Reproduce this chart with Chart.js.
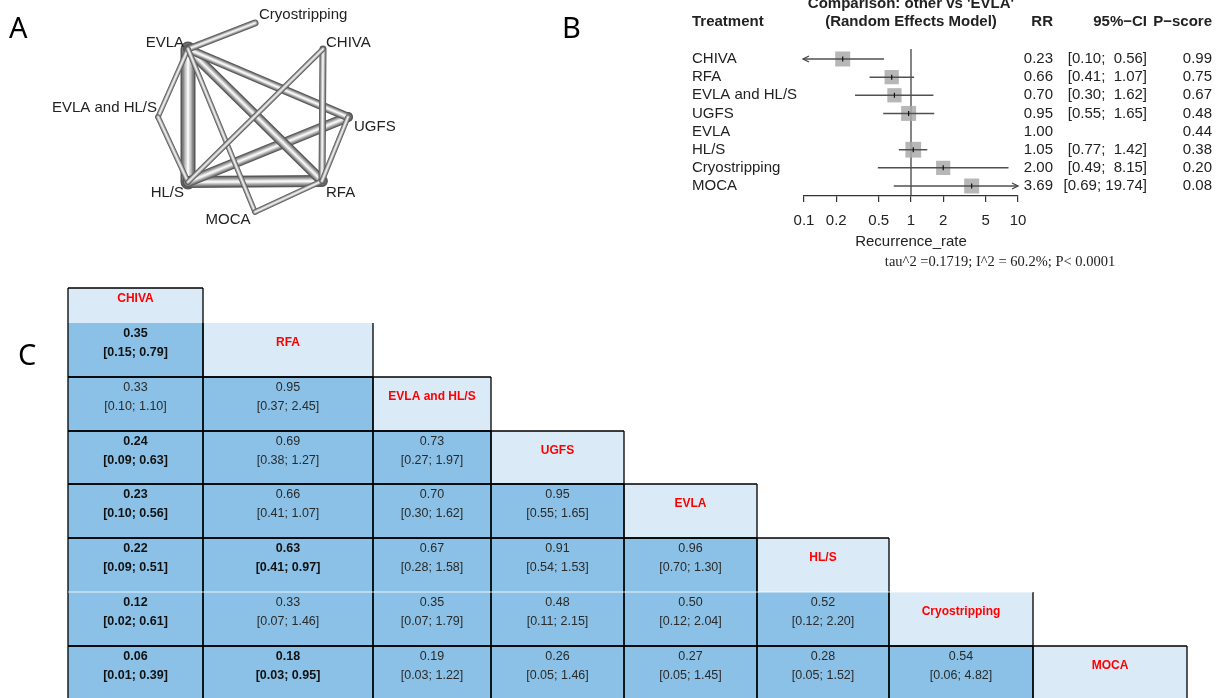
<!DOCTYPE html>
<html>
<head>
<title>Network meta-analysis: recurrence rate</title>
<script src="https://cdn.jsdelivr.net/npm/chart.js"></script>
<style>
  body { margin: 0; background: #fff; width: 1220px; height: 698px; overflow: hidden; position: relative; }
  canvas { position: absolute; }
</style>
</head>
<body>
<canvas id="netChart" width="560" height="280" style="left:0;top:0;width:560px;height:280px"></canvas>
<canvas id="forestChart" width="660" height="280" style="left:560px;top:0;width:660px;height:280px"></canvas>
<canvas id="leagueChart" width="1220" height="418" style="left:0;top:280px;width:1220px;height:418px"></canvas>
<script>
// ---- A: network graph data ----
const nodeNames = ['EVLA', 'Cryostripping', 'CHIVA', 'UGFS', 'RFA', 'MOCA', 'HL/S', 'EVLA and HL/S'];
const edgeFrom = ['EVLA', 'HL/S', 'HL/S', 'EVLA', 'EVLA', 'EVLA', 'CHIVA', 'EVLA', 'EVLA and HL/S', 'EVLA', 'RFA', 'CHIVA', 'UGFS'];
const edgeTo = ['HL/S', 'RFA', 'UGFS', 'RFA', 'UGFS', 'Cryostripping', 'RFA', 'EVLA and HL/S', 'HL/S', 'MOCA', 'MOCA', 'HL/S', 'RFA'];
const edgeStudies = [7, 5, 4, 4, 3, 2, 2, 1, 1, 1, 1, 1, 1];

// ---- B: forest plot data (other vs EVLA) ----
const forestLabels = ['CHIVA', 'RFA', 'EVLA and HL/S', 'UGFS', 'EVLA', 'HL/S', 'Cryostripping', 'MOCA'];
const forestRR = [0.23, 0.66, 0.70, 0.95, 1.00, 1.05, 2.00, 3.69];
const forestLo = [0.10, 0.41, 0.30, 0.55, null, 0.77, 0.49, 0.69];
const forestHi = [0.56, 1.07, 1.62, 1.65, null, 1.42, 8.15, 19.74];
const forestPScore = [0.99, 0.75, 0.67, 0.48, 0.44, 0.38, 0.20, 0.08];
const forestWeight = [1.0, 0.95, 0.95, 1.0, 0, 1.05, 0.95, 1.0];
const forestTicks = [0.1, 0.2, 0.5, 1, 2, 5, 10];

// ---- C: league table ----
const leagueNames = ['CHIVA', 'RFA', 'EVLA and HL/S', 'UGFS', 'EVLA', 'HL/S', 'Cryostripping', 'MOCA'];
const leagueEst = [
  [],
  [0.35],
  [0.33, 0.95],
  [0.24, 0.69, 0.73],
  [0.23, 0.66, 0.70, 0.95],
  [0.22, 0.63, 0.67, 0.91, 0.96],
  [0.12, 0.33, 0.35, 0.48, 0.50, 0.52],
  [0.06, 0.18, 0.19, 0.26, 0.27, 0.28, 0.54]
];
const leagueLo = [
  [],
  [0.15],
  [0.10, 0.37],
  [0.09, 0.38, 0.27],
  [0.10, 0.41, 0.30, 0.55],
  [0.09, 0.41, 0.28, 0.54, 0.70],
  [0.02, 0.07, 0.07, 0.11, 0.12, 0.12],
  [0.01, 0.03, 0.03, 0.05, 0.05, 0.05, 0.06]
];
const leagueHi = [
  [],
  [0.79],
  [1.10, 2.45],
  [0.63, 1.27, 1.97],
  [0.56, 1.07, 1.62, 1.65],
  [0.51, 0.97, 1.58, 1.53, 1.30],
  [0.61, 1.46, 1.79, 2.15, 2.04, 2.20],
  [0.39, 0.95, 1.22, 1.46, 1.45, 1.52, 4.82]
];

// layout (page pixels)
const nodeXY = {
  'EVLA': [188, 49], 'Cryostripping': [255, 23], 'CHIVA': [323, 49], 'UGFS': [348, 117],
  'RFA': [322, 181], 'MOCA': [255, 212], 'HL/S': [188, 182], 'EVLA and HL/S': [158, 117]
};
const nodeLabelXY = {
  'EVLA': [184, 43, 'right'], 'Cryostripping': [259, 15, 'left'], 'CHIVA': [326, 43, 'left'],
  'UGFS': [354, 127, 'left'], 'RFA': [326, 193, 'left'], 'MOCA': [228, 220, 'center'],
  'HL/S': [184, 193, 'right'], 'EVLA and HL/S': [157, 108, 'right']
};
const colEdges = [68, 203, 373, 491, 624, 757, 889, 1033, 1187];
const rowEdges = [288, 323, 377, 431, 484, 538, 592, 646, 700];
const openRows = [323, 592];

const SANS = '"Liberation Sans", Arial, sans-serif';
const LETTER = '"Noto Sans", sans-serif';

// ---------- A ----------
// shaded "tube" look: dark rim to light centre
const tube = [[1, '#575757'], [0.78, '#828282'], [0.56, '#ababab'], [0.36, '#d3d3d3'], [0.16, '#f6f6f6']];
const netDatasets = [];
let seq = 0;
edgeFrom.forEach((from, i) => {
  const a = nodeXY[from], b = nodeXY[edgeTo[i]];
  const w = 3.8 + 1.6 * edgeStudies[i];
  tube.forEach(([f, col]) => {
    netDatasets.push({
      data: [{ x: a[0], y: a[1] }, { x: b[0], y: b[1] }],
      showLine: true,
      borderColor: col,
      borderWidth: w * f,
      borderCapStyle: 'round',
      pointRadius: 0,
      clip: false,
      order: 1000 - seq++
    });
  });
});

const netLabels = {
  id: 'netLabels',
  afterDraw(chart) {
    const { ctx, scales: { x, y } } = chart;
    ctx.save();
    ctx.fillStyle = '#222';
    ctx.font = '15px ' + SANS;
    ctx.textBaseline = 'middle';
    nodeNames.forEach(n => {
      const [lx, ly, al] = nodeLabelXY[n];
      ctx.textAlign = al;
      ctx.fillText(n, x.getPixelForValue(lx), y.getPixelForValue(ly));
    });
    ctx.font = '29px ' + LETTER;
    ctx.textAlign = 'left';
    ctx.textBaseline = 'alphabetic';
    ctx.fillStyle = '#000';
    ctx.fillText('A', x.getPixelForValue(9), y.getPixelForValue(38));
    ctx.restore();
  }
};

new Chart(document.getElementById('netChart'), {
  type: 'scatter',
  data: { datasets: netDatasets },
  options: {
    responsive: false,
    animation: false,
    events: [],
    layout: { padding: 0 },
    plugins: { legend: { display: false }, tooltip: { enabled: false } },
    scales: {
      x: { type: 'linear', min: 0, max: 560, display: false },
      y: { type: 'linear', min: 0, max: 280, reverse: true, display: false }
    }
  },
  plugins: [netLabels]
});

// ---------- B ----------
const ciSets = [];
forestLabels.forEach((_, i) => {
  if (forestLo[i] == null) return;
  ciSets.push({
    data: [{ x: forestLo[i], y: i }, { x: forestHi[i], y: i }],
    showLine: true, borderColor: '#505050', borderWidth: 1.5, pointRadius: 0, order: 2
  });
});
const boxPts = [], boxRad = [], tickPts = [];
forestLabels.forEach((_, i) => {
  if (!forestWeight[i]) return;
  boxPts.push({ x: forestRR[i], y: i });
  boxRad.push(10.6 * forestWeight[i]);
  tickPts.push({ x: forestRR[i], y: i });
});

const forestText = {
  id: 'forestText',
  afterDraw(chart) {
    const { ctx, scales: { x, y } } = chart;
    ctx.save();
    ctx.fillStyle = '#222';
    ctx.strokeStyle = '#444';
    ctx.lineWidth = 1.3;
    // arrows for intervals beyond the axis
    forestLabels.forEach((_, i) => {
      if (forestLo[i] == null) return;
      const py = y.getPixelForValue(i);
      if (forestLo[i] <= x.min) {
        const px = x.getPixelForValue(x.min) - 1;
        ctx.beginPath();
        ctx.moveTo(px + 6, py - 3); ctx.lineTo(px, py); ctx.lineTo(px + 6, py + 3);
        ctx.stroke();
      }
      if (forestHi[i] >= x.max) {
        const px = x.getPixelForValue(x.max);
        ctx.beginPath();
        ctx.moveTo(px - 6, py - 3); ctx.lineTo(px, py); ctx.lineTo(px - 6, py + 3);
        ctx.stroke();
      }
    });
    // headers
    ctx.font = 'bold 15px ' + SANS;
    ctx.textBaseline = 'middle';
    ctx.textAlign = 'left';
    ctx.fillText('Treatment', 132, 22);
    ctx.textAlign = 'center';
    const mid = x.getPixelForValue(1);
    ctx.fillText('(Random Effects Model)', mid, 22);
    ctx.textBaseline = 'alphabetic';
    ctx.fillText("Comparison: other vs 'EVLA'", mid, 8);
    ctx.textBaseline = 'middle';
    ctx.textAlign = 'right';
    ctx.fillText('RR', 493, 22);
    ctx.fillText('95%\u2212CI', 587, 22);
    ctx.fillText('P\u2212score', 652, 22);
    // rows
    ctx.font = '15px ' + SANS;
    forestLabels.forEach((lab, i) => {
      const py = y.getPixelForValue(i);
      ctx.textAlign = 'left';
      ctx.fillText(lab, 132, py);
      ctx.textAlign = 'right';
      ctx.fillText(forestRR[i].toFixed(2), 493, py);
      if (forestLo[i] != null) {
        const hi = forestHi[i].toFixed(2);
        ctx.fillText('[' + forestLo[i].toFixed(2) + ';' + (hi.length < 5 ? '  ' : ' ') + hi + ']', 587, py);
      }
      ctx.fillText(forestPScore[i].toFixed(2), 652, py);
    });
    ctx.textAlign = 'center';
    ctx.fillText('Recurrence_rate', mid, 242);
    ctx.font = '14.5px "Liberation Serif", "Times New Roman", serif';
    ctx.fillText('tau^2 =0.1719; I^2 = 60.2%; P< 0.0001', 440, 262);
    ctx.font = '29px ' + LETTER;
    ctx.textAlign = 'left';
    ctx.textBaseline = 'alphabetic';
    ctx.fillStyle = '#000';
    ctx.fillText('B', 2, 38);
    ctx.restore();
  }
};

new Chart(document.getElementById('forestChart'), {
  type: 'scatter',
  data: {
    datasets: [
      {
        data: [{ x: 1, y: -0.55 }, { x: 1, y: forestLabels.length - 0.45 }],
        showLine: true, borderColor: '#444', borderWidth: 1.3, pointRadius: 0, order: 4
      },
      {
        data: boxPts, pointStyle: 'rect', pointRadius: boxRad,
        backgroundColor: 'rgba(170,170,170,0.85)', borderWidth: 0, order: 3
      },
      ...ciSets,
      {
        data: tickPts, pointStyle: 'line', rotation: 90, pointRadius: 2.5,
        borderColor: '#111', borderWidth: 1.2, order: 1
      }
    ]
  },
  options: {
    responsive: false,
    animation: false,
    events: [],
    layout: { padding: { left: 244, right: 202, top: 49, bottom: 54 } },
    plugins: { legend: { display: false }, tooltip: { enabled: false } },
    scales: {
      x: {
        type: 'logarithmic', min: 0.1, max: 10,
        afterBuildTicks: s => { s.ticks = forestTicks.map(v => ({ value: v })); },
        afterFit: s => { s.height = 30; },
        grid: { drawOnChartArea: false, drawTicks: true, tickLength: 6, color: '#333', lineWidth: 1.2 },
        border: { display: true, color: '#333', width: 1.2 },
        ticks: {
          autoSkip: false, maxRotation: 0, padding: 10, color: '#222',
          font: { family: SANS, size: 15 },
          callback: v => String(v)
        }
      },
      y: { type: 'linear', min: -0.55, max: forestLabels.length - 0.45, reverse: true, display: false }
    }
  },
  plugins: [forestText]
});

// ---------- C ----------
const leagueDraw = {
  id: 'leagueDraw',
  afterDraw(chart) {
    const { ctx, scales: { x, y } } = chart;
    const n = leagueNames.length;
    ctx.save();
    // cells
    for (let i = 0; i < n; i++) {
      const top = y.getPixelForValue(rowEdges[i]), bot = y.getPixelForValue(rowEdges[i + 1]);
      for (let j = 0; j <= i; j++) {
        const l = x.getPixelForValue(colEdges[j]), r = x.getPixelForValue(colEdges[j + 1]);
        ctx.fillStyle = j === i ? '#DAEAF6' : '#8BC1E6';
        ctx.fillRect(l, top, r - l, bot - top);
      }
    }
    // borders
    ctx.strokeStyle = '#000';
    ctx.lineWidth = 1.3;
    for (let i = 0; i < n; i++) {
      const top = y.getPixelForValue(rowEdges[i]), bot = y.getPixelForValue(rowEdges[i + 1]);
      for (let j = 0; j <= i; j++) {
        const l = x.getPixelForValue(colEdges[j]), r = x.getPixelForValue(colEdges[j + 1]);
        ctx.beginPath();
        ctx.moveTo(l, top); ctx.lineTo(l, bot);
        ctx.moveTo(r, top); ctx.lineTo(r, bot);
        if (!openRows.includes(rowEdges[i])) { ctx.moveTo(l, top); ctx.lineTo(r, top); }
        if (!openRows.includes(rowEdges[i + 1])) { ctx.moveTo(l, bot); ctx.lineTo(r, bot); }
        ctx.stroke();
      }
    }
    // thin white seam on the open row
    ctx.strokeStyle = 'rgba(255,255,255,0.8)';
    ctx.lineWidth = 1;
    ctx.beginPath();
    ctx.moveTo(x.getPixelForValue(colEdges[0]), y.getPixelForValue(openRows[1]));
    ctx.lineTo(x.getPixelForValue(colEdges[7]), y.getPixelForValue(openRows[1]));
    ctx.stroke();
    // texts
    ctx.textAlign = 'center';
    ctx.textBaseline = 'middle';
    for (let i = 0; i < n; i++) {
      const top = rowEdges[i];
      for (let j = 0; j <= i; j++) {
        const cx = x.getPixelForValue((colEdges[j] + colEdges[j + 1]) / 2);
        if (j === i) {
          ctx.fillStyle = '#FF0000';
          ctx.font = 'bold 12px ' + SANS;
          ctx.fillText(leagueNames[i], cx, y.getPixelForValue(top + (i === 0 ? 11 : 20)));
        } else {
          const est = leagueEst[i][j], lo = leagueLo[i][j], hi = leagueHi[i][j];
          const sig = hi < 1 || lo > 1;
          ctx.fillStyle = sig ? '#111' : '#2a2a2a';
          ctx.font = (sig ? 'bold ' : '') + '12.5px ' + SANS;
          ctx.fillText(est.toFixed(2), cx, y.getPixelForValue(top + 10.5));
          ctx.fillText('[' + lo.toFixed(2) + '; ' + hi.toFixed(2) + ']', cx, y.getPixelForValue(top + 30));
        }
      }
    }
    ctx.font = '29px ' + LETTER;
    ctx.textAlign = 'left';
    ctx.textBaseline = 'alphabetic';
    ctx.fillStyle = '#000';
    ctx.fillText('C', x.getPixelForValue(18), y.getPixelForValue(365));
    ctx.restore();
  }
};

new Chart(document.getElementById('leagueChart'), {
  type: 'scatter',
  data: { datasets: [{ data: [] }] },
  options: {
    responsive: false,
    animation: false,
    events: [],
    layout: { padding: 0 },
    plugins: { legend: { display: false }, tooltip: { enabled: false } },
    scales: {
      x: { type: 'linear', min: 0, max: 1220, display: false },
      y: { type: 'linear', min: 280, max: 698, reverse: true, display: false }
    }
  },
  plugins: [leagueDraw]
});
</script>
</body>
</html>
